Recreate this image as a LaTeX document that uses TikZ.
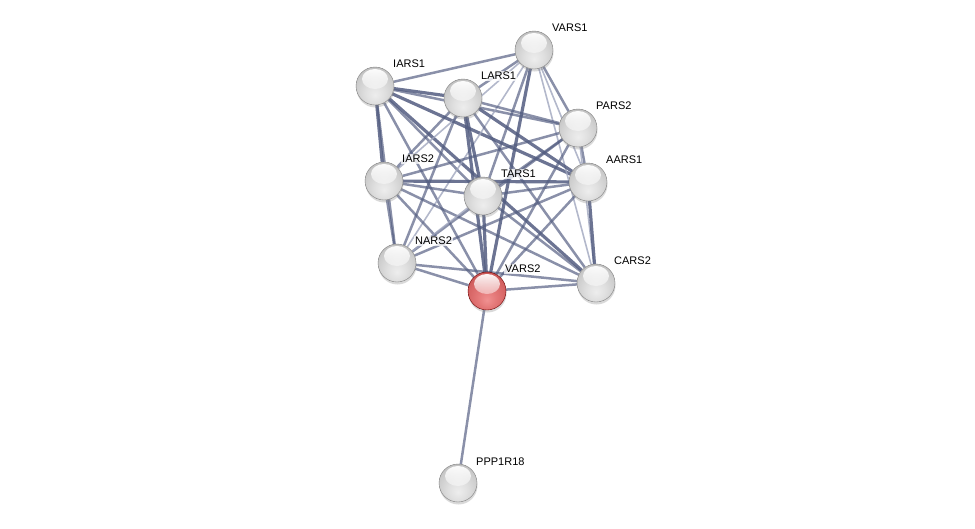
\documentclass[tikz,border=0pt]{standalone}
\usepackage{fontspec}
\setmainfont{Liberation Sans}
\usetikzlibrary{shadows,fadings}
\definecolor{edgec}{RGB}{82,92,128}
\definecolor{edgel}{RGB}{160,166,190}
\pgfdeclareradialshading{gball}{\pgfpoint{0bp}{-12bp}}{color(0bp)=(white!93!black); color(12bp)=(white!88!black); color(26bp)=(white!80!black); color(38bp)=(white!70!black); color(50bp)=(white!55!black); color(70bp)=(white!50!black)}
\pgfdeclareradialshading{rball}{\pgfpoint{0bp}{-12bp}}{color(0bp)=(rgb,255:red,240;green,145;blue,145); color(12bp)=(rgb,255:red,228;green,120;blue,120); color(26bp)=(rgb,255:red,212;green,98;blue,98); color(38bp)=(rgb,255:red,190;green,72;blue,72); color(50bp)=(rgb,255:red,150;green,40;blue,40); color(70bp)=(rgb,255:red,140;green,35;blue,35)}
\pgfdeclarelayer{bg}
\pgfsetlayers{bg,main}
\tikzset{
  ball/.style={circle, minimum size=38pt, inner sep=0pt, shading=gball, draw=white!50!black, line width=0.4pt,
    drop shadow={shadow xshift=0.5pt, shadow yshift=-2.5pt, opacity=0.3},
    path picture={\fill[white, path fading=south] ([yshift=7pt]path picture bounding box.center) ellipse (13pt and 10pt);}},
  redball/.style={ball, shading=rball, draw=black!40!red!70!black},
  lab/.style={anchor=west, font=\fontsize{11}{12}\selectfont, fill=white, fill opacity=0.75, text opacity=1, inner sep=1pt},
  thk/.style={draw=edgec, line width=3.2pt, opacity=0.85},
  mid/.style={draw=edgec, line width=2.5pt, opacity=0.68},
  lgt/.style={draw=edgel, line width=1.6pt, opacity=0.8}
}
\begin{document}
\begin{tikzpicture}[x=1pt,y=-1pt]
\useasboundingbox (0,0) rectangle (975,528);
\node[ball] (V1) at (534,50) {};
\node[ball] (I1) at (375,86) {};
\node[ball] (L1) at (463,98) {};
\node[ball] (P2) at (578,128) {};
\node[ball] (I2) at (384,181) {};
\node[ball] (T1) at (483,196) {};
\node[ball] (A1) at (588,182) {};
\node[ball] (N2) at (397,263) {};
\node[redball] (V2) at (487,291) {};
\node[ball] (C2) at (596,283) {};
\node[ball] (PP) at (458,483) {};
\begin{pgfonlayer}{bg}
\draw[mid] (I1)--(V1); \draw[thk] (I1)--(L1); \draw[mid] (I1)--(P2); \draw[thk] (I1)--(I2);
\draw[mid] (I1)--(T1); \draw[thk] (I1)--(A1); \draw[mid] (I1)--(N2); \draw[mid] (I1)--(V2); \draw[thk] (I1)--(C2);
\draw[mid] (V1)--(L1); \draw[mid] (V1)--(P2); \draw[lgt] (V1)--(I2); \draw[mid] (V1)--(T1);
\draw[lgt] (V1)--(A1); \draw[lgt] (V1)--(N2); \draw[thk] (V1)--(V2); \draw[lgt] (V1)--(C2);
\draw[mid] (L1)--(P2); \draw[mid] (L1)--(I2); \draw[thk] (L1)--(T1); \draw[thk] (L1)--(A1);
\draw[mid] (L1)--(N2); \draw[thk] (L1)--(V2); \draw[mid] (L1)--(C2);
\draw[mid] (P2)--(I2); \draw[mid] (P2)--(T1); \draw[mid] (P2)--(A1); \draw[mid] (P2)--(N2);
\draw[mid] (P2)--(V2); \draw[lgt] (P2)--(C2);
\draw[mid] (I2)--(T1); \draw[thk] (I2)--(A1); \draw[mid] (I2)--(N2); \draw[mid] (I2)--(V2); \draw[mid] (I2)--(C2);
\draw[mid] (T1)--(A1); \draw[lgt] (T1)--(N2); \draw[thk] (T1)--(V2); \draw[mid] (T1)--(C2);
\draw[mid] (A1)--(N2); \draw[mid] (A1)--(V2); \draw[thk] (A1)--(C2);
\draw[mid] (N2)--(V2); \draw[mid] (N2)--(C2);
\draw[mid] (V2)--(C2);
\draw[mid] (V2)--(PP);
\end{pgfonlayer}
\node[lab] at ([shift={(17pt,22pt)}]V1.center) {VARS1};
\node[lab] at ([shift={(17pt,22pt)}]I1.center) {IARS1};
\node[lab] at ([shift={(17pt,22pt)}]L1.center) {LARS1};
\node[lab] at ([shift={(17pt,22pt)}]P2.center) {PARS2};
\node[lab] at ([shift={(17pt,22pt)}]I2.center) {IARS2};
\node[lab] at ([shift={(17pt,22pt)}]T1.center) {TARS1};
\node[lab] at ([shift={(17pt,22pt)}]A1.center) {AARS1};
\node[lab] at ([shift={(17pt,22pt)}]N2.center) {NARS2};
\node[lab] at ([shift={(17pt,22pt)}]V2.center) {VARS2};
\node[lab] at ([shift={(17pt,22pt)}]C2.center) {CARS2};
\node[lab] at ([shift={(17pt,21pt)}]PP.center) {PPP1R18};
\end{tikzpicture}
\end{document}
